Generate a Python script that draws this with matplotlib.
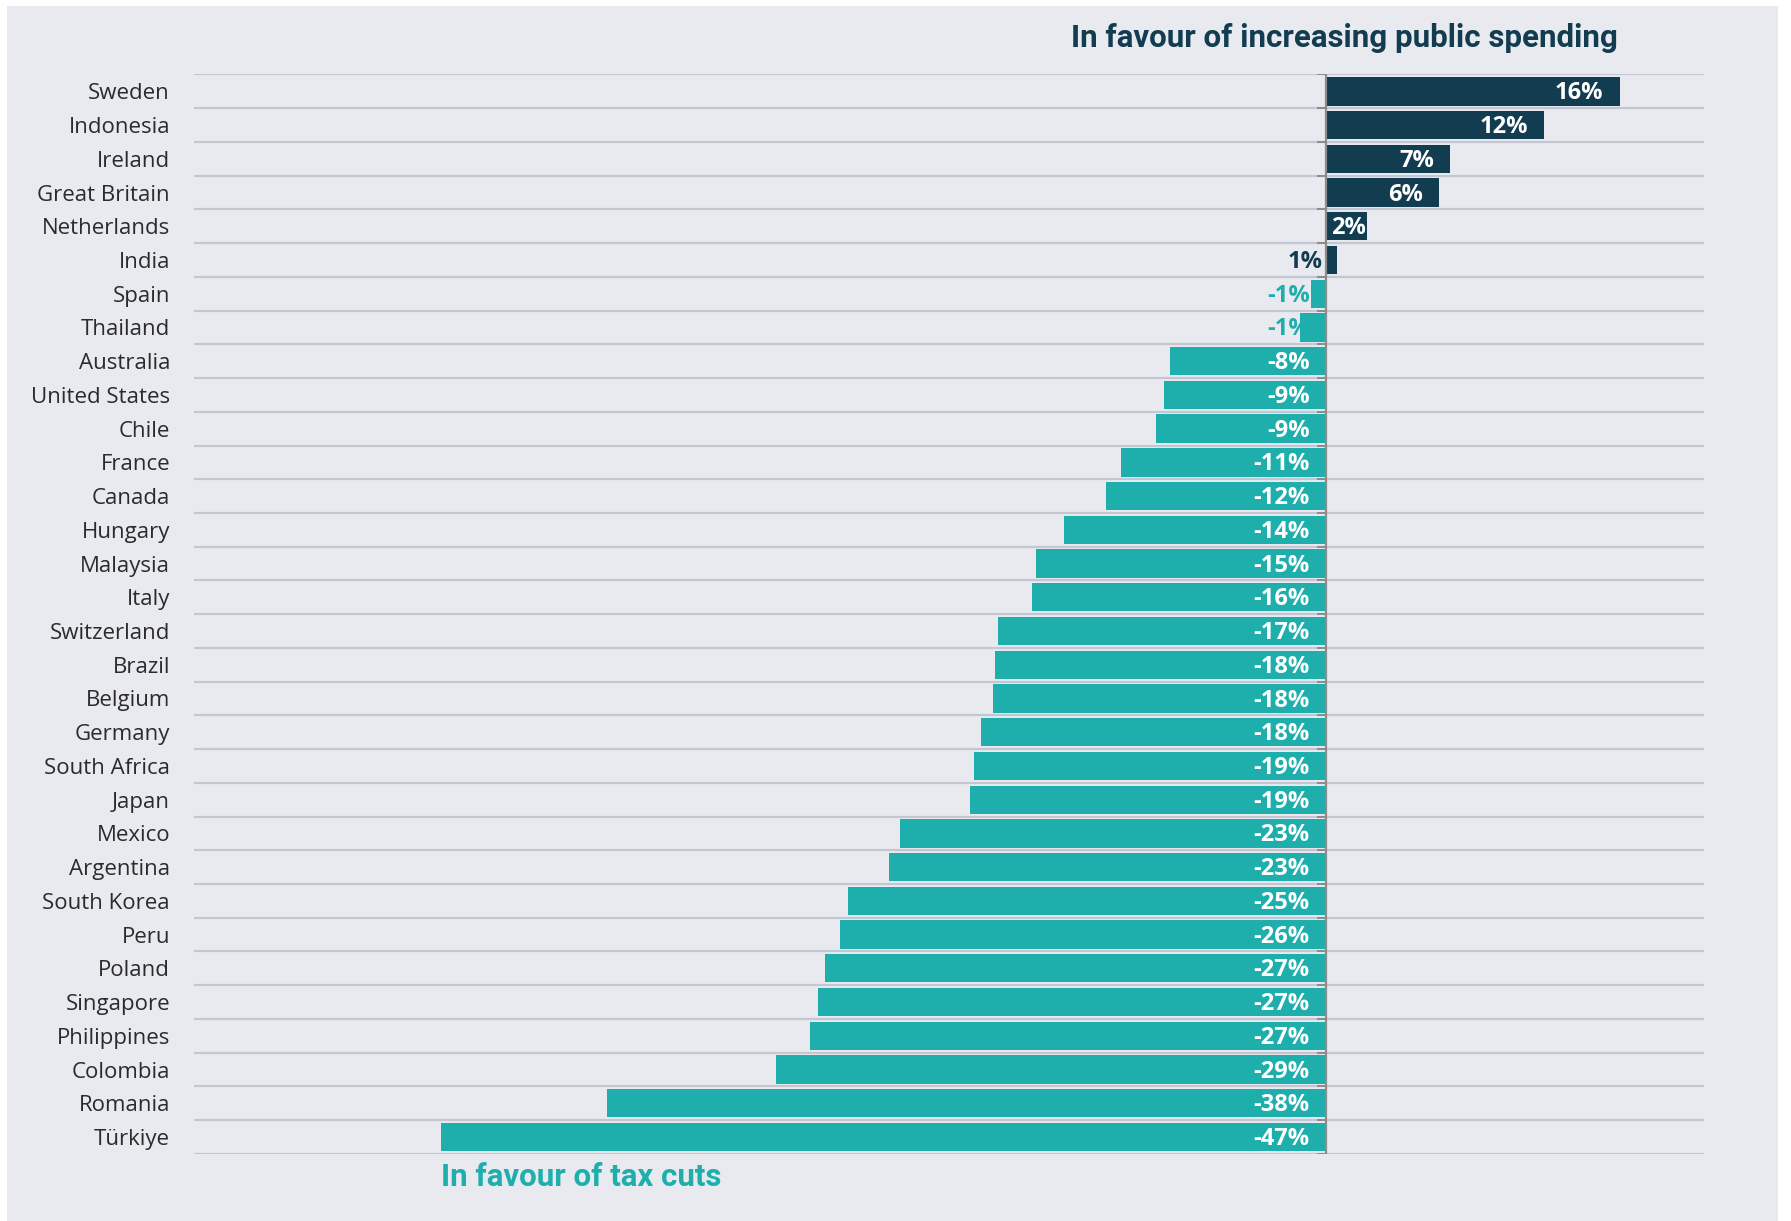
import numpy as np
import matplotlib.pyplot as plt
from matplotlib.patches import Rectangle

countries = ["Sweden", "Indonesia", "Ireland", "Great Britain", "Netherlands", "India",
             "Spain", "Thailand", "Australia", "United States", "Chile", "France",
             "Canada", "Hungary", "Malaysia", "Italy", "Switzerland", "Brazil",
             "Belgium", "Germany", "South Africa", "Japan", "Mexico", "Argentina",
             "South Korea", "Peru", "Poland", "Singapore", "Philippines", "Colombia",
             "Romania", "Türkiye"]
net_balance = [15.6, 11.6, 6.6, 6.0, 2.2, 0.6,
               -0.8, -1.4, -8.3, -8.6, -9.0, -10.9,
               -11.7, -13.9, -15.4, -15.6, -17.4, -17.6,
               -17.7, -18.3, -18.7, -18.9, -22.6, -23.2,
               -25.4, -25.8, -26.6, -27.0, -27.4, -29.2,
               -38.2, -47.0]

navy = "#123c50"
teal = "#1eafad"
bg = "#e8eaef"
grid_col = "#c3c6d3"

plt.rcParams['font.family'] = ['Open Sans', 'DejaVu Sans']

fig = plt.figure(figsize=(17.91, 12.21), dpi=100)
fig.patch.set_facecolor("white")
fig.patches.append(Rectangle((7 / 1791, 0), 1771 / 1791, 1 - 6 / 1221,
                             transform=fig.transFigure, facecolor=bg,
                             edgecolor="none", zorder=-10))

ax = fig.add_axes([0.1085, 0.055, 0.8431, 0.884])
ax.set_facecolor("none")
ax.set_zorder(5)

y = np.arange(len(countries))
vals = np.array(net_balance)
colors = [navy if v > 0 else teal for v in vals]
ax.barh(y, vals, height=0.84, color=colors, zorder=3)

# row separators
for g in np.arange(-0.5, len(countries), 1.0):
    ax.axhline(g, color=grid_col, lw=1.6, zorder=1)
    ax.plot([-0.45, 0], [g, g], color="#8c8c8c", lw=1.4, zorder=4,
            solid_capstyle="butt")
ax.plot([0, 0], [-0.5, len(countries) - 0.5], color="#8c8c8c", lw=1.6, zorder=4)

fs = 17
for i, v in enumerate(vals):
    lab = f"{v:.0f}%"
    yy = i + 0.06
    if v > 4:
        ax.text(v - 0.85, yy, lab, ha="right", va="center", color="white",
                fontsize=fs, fontweight="bold", zorder=5)
    elif v >= 2:
        ax.text(0.3, yy, lab, ha="left", va="center", color="white",
                fontsize=fs, fontweight="bold", zorder=5)
    elif v > 0:
        ax.text(-0.2, yy, lab, ha="right", va="center", color=navy,
                fontsize=fs, fontweight="bold", zorder=5)
    elif v > -2:
        ax.text(-0.85, yy, lab, ha="right", va="center", color=teal,
                fontsize=fs, fontweight="bold", zorder=2)
    else:
        ax.text(-0.85, yy, lab, ha="right", va="center", color="white",
                fontsize=fs, fontweight="bold", zorder=5)

ax.set_xlim(-60.1, 20.1)
ax.set_ylim(len(countries) - 0.5, -0.5)
ax.set_yticks(y)
ax.set_yticklabels(countries, fontsize=16, color="#2b2b2b")
ax.tick_params(axis="y", length=0, pad=17.5)
ax.set_xticks([])
for s in ax.spines.values():
    s.set_visible(False)

fig.text(1618 / 1791, 1 - 38 / 1221, "In favour of increasing public spending",
         ha="right", va="center", color=navy, fontsize=22.5, fontweight="bold",
         family="Roboto")
fig.text(441 / 1791, 1 - 1177 / 1221, "In favour of tax cuts",
         ha="left", va="center", color=teal, fontsize=22.5, fontweight="bold",
         family="Roboto")

fig.savefig("out.png", dpi=100)
